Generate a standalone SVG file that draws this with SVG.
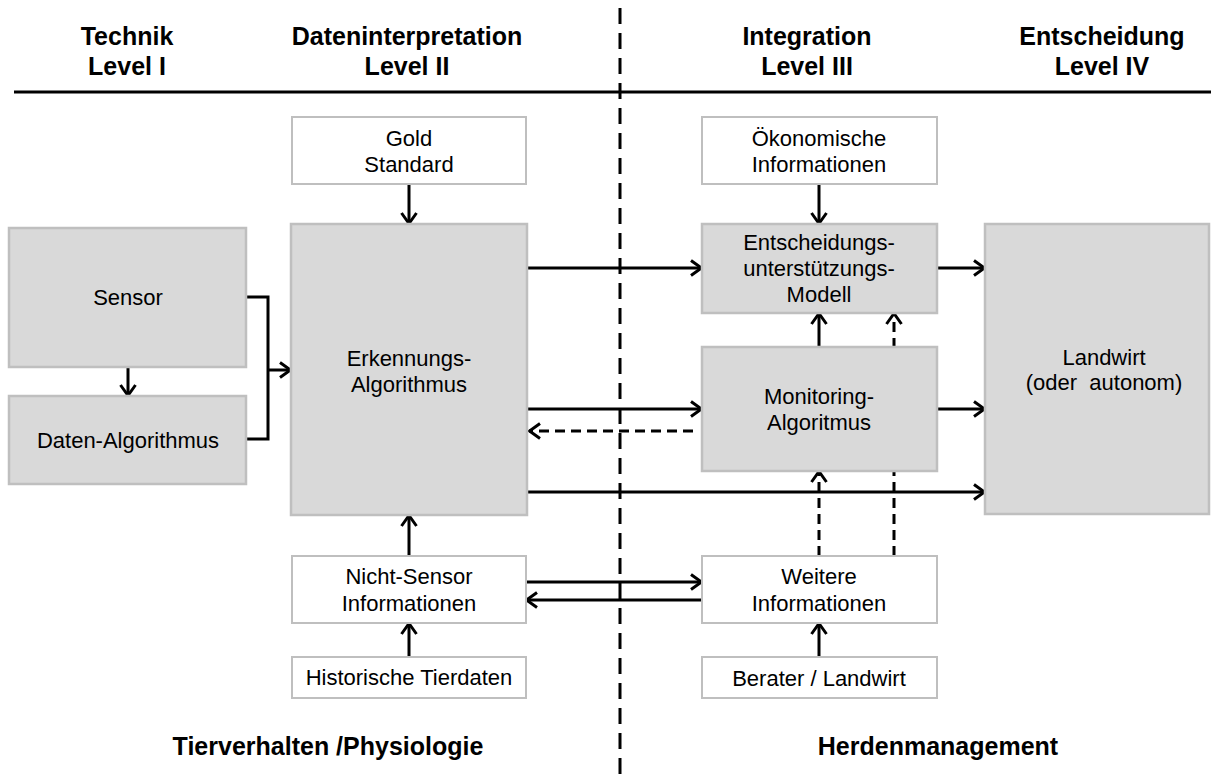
<svg xmlns="http://www.w3.org/2000/svg" width="1211" height="776" viewBox="0 0 1211 776">
<style>
.g{fill:#d9d9d9;stroke:#bfbfbf;stroke-width:2.5}
.w{fill:#ffffff;stroke:#bfbfbf;stroke-width:2}
.t{font-family:"Liberation Sans",Arial,sans-serif;font-size:22px;fill:#000;text-anchor:middle}
.h{font-family:"Liberation Sans",Arial,sans-serif;font-size:25px;font-weight:bold;fill:#000;text-anchor:middle}
.c{fill:none;stroke:#000;stroke-width:3}
.d{fill:none;stroke:#000;stroke-width:3;stroke-dasharray:10 6}
</style>
<defs>
<marker id="ah" viewBox="0 0 14 18" refX="12.5" refY="9" markerWidth="14" markerHeight="18" orient="auto" markerUnits="userSpaceOnUse">
<path d="M1.5,1.5 L12,9 L1.5,16.5" fill="none" stroke="#000" stroke-width="3"/>
</marker>
</defs>
<rect width="1211" height="776" fill="#ffffff"/>
<g id="frame">
<line x1="14" y1="92" x2="1211" y2="92" stroke="#000" stroke-width="3"/>
<line x1="620" y1="8" x2="620" y2="776" stroke="#000" stroke-width="3" stroke-dasharray="16 9"/>
<text class="h" x="127" y="45">Technik</text>
<text class="h" x="127" y="75">Level I</text>
<text class="h" x="407" y="45">Dateninterpretation</text>
<text class="h" x="407" y="75">Level II</text>
<text class="h" x="807" y="45">Integration</text>
<text class="h" x="807" y="75">Level III</text>
<text class="h" x="1102" y="45">Entscheidung</text>
<text class="h" x="1102" y="75">Level IV</text>
<text class="h" x="328" y="755">Tierverhalten /Physiologie</text>
<text class="h" x="938" y="755">Herdenmanagement</text>
</g>
<g id="connectors">
<line class="c" x1="128" y1="368" x2="128" y2="396" marker-end="url(#ah)"/>
<polyline class="c" points="246,297 268,297 268,439 246,439"/>
<line class="c" x1="268" y1="370" x2="291" y2="370" marker-end="url(#ah)"/>
<line class="c" x1="409" y1="184" x2="409" y2="224" marker-end="url(#ah)"/>
<line class="c" x1="409" y1="556" x2="409" y2="515" marker-end="url(#ah)"/>
<line class="c" x1="409" y1="657" x2="409" y2="623" marker-end="url(#ah)"/>
<line class="c" x1="527" y1="268" x2="702" y2="268" marker-end="url(#ah)"/>
<line class="c" x1="527" y1="409" x2="702" y2="409" marker-end="url(#ah)"/>
<line class="d" x1="693" y1="431" x2="529" y2="431" marker-end="url(#ah)"/>
<line class="c" x1="527" y1="492" x2="985" y2="492" marker-end="url(#ah)"/>
<line class="c" x1="526" y1="582" x2="702" y2="582" marker-end="url(#ah)"/>
<line class="c" x1="702" y1="600" x2="526" y2="600" marker-end="url(#ah)"/>
<line class="c" x1="819" y1="184" x2="819" y2="224" marker-end="url(#ah)"/>
<line class="c" x1="819" y1="347" x2="819" y2="313" marker-end="url(#ah)"/>
<line class="d" x1="819" y1="556" x2="819" y2="471" marker-end="url(#ah)"/>
<line class="d" x1="894" y1="556" x2="894" y2="313" marker-end="url(#ah)"/>
<line class="c" x1="819" y1="657" x2="819" y2="623" marker-end="url(#ah)"/>
<line class="c" x1="937" y1="268" x2="985" y2="268" marker-end="url(#ah)"/>
<line class="c" x1="937" y1="409" x2="985" y2="409" marker-end="url(#ah)"/>
</g>
<g id="sensor">
<rect class="g" x="9" y="228" width="237" height="139"/>
<text class="t" x="128" y="305">Sensor</text>
</g>
<g id="daten-algorithmus">
<rect class="g" x="9" y="396" width="237" height="88"/>
<text class="t" x="128" y="448">Daten-Algorithmus</text>
</g>
<g id="gold-standard">
<rect class="w" x="292" y="117" width="234" height="67"/>
<text class="t" x="409" y="146">Gold</text>
<text class="t" x="409" y="172">Standard</text>
</g>
<g id="erkennungs-algorithmus">
<rect class="g" x="291" y="224" width="236" height="291"/>
<text class="t" x="409" y="366">Erkennungs-</text>
<text class="t" x="409" y="392">Algorithmus</text>
</g>
<g id="nicht-sensor">
<rect class="w" x="292" y="556" width="234" height="67"/>
<text class="t" x="409" y="584">Nicht-Sensor</text>
<text class="t" x="409" y="611">Informationen</text>
</g>
<g id="historische-tierdaten">
<rect class="w" x="292" y="657" width="234" height="41"/>
<text class="t" x="409" y="685">Historische Tierdaten</text>
</g>
<g id="oekonomische-informationen">
<rect class="w" x="702" y="117" width="235" height="67"/>
<text class="t" x="819" y="146">Ökonomische</text>
<text class="t" x="819" y="172">Informationen</text>
</g>
<g id="entscheidungsmodell">
<rect class="g" x="702" y="224" width="235" height="89"/>
<text class="t" x="819" y="250">Entscheidungs-</text>
<text class="t" x="819" y="276">unterstützungs-</text>
<text class="t" x="819" y="302">Modell</text>
</g>
<g id="monitoring-algoritmus">
<rect class="g" x="702" y="347" width="235" height="124"/>
<text class="t" x="819" y="404">Monitoring-</text>
<text class="t" x="819" y="430">Algoritmus</text>
</g>
<g id="weitere-informationen">
<rect class="w" x="702" y="556" width="235" height="67"/>
<text class="t" x="819" y="584">Weitere</text>
<text class="t" x="819" y="611">Informationen</text>
</g>
<g id="berater-landwirt">
<rect class="w" x="702" y="657" width="235" height="41"/>
<text class="t" x="819" y="686">Berater / Landwirt</text>
</g>
<g id="landwirt">
<rect class="g" x="985" y="224" width="224" height="290"/>
<text class="t" x="1104" y="365">Landwirt</text>
<text class="t" x="1104" y="390" xml:space="preserve">(oder  autonom)</text>
</g>
</svg>
